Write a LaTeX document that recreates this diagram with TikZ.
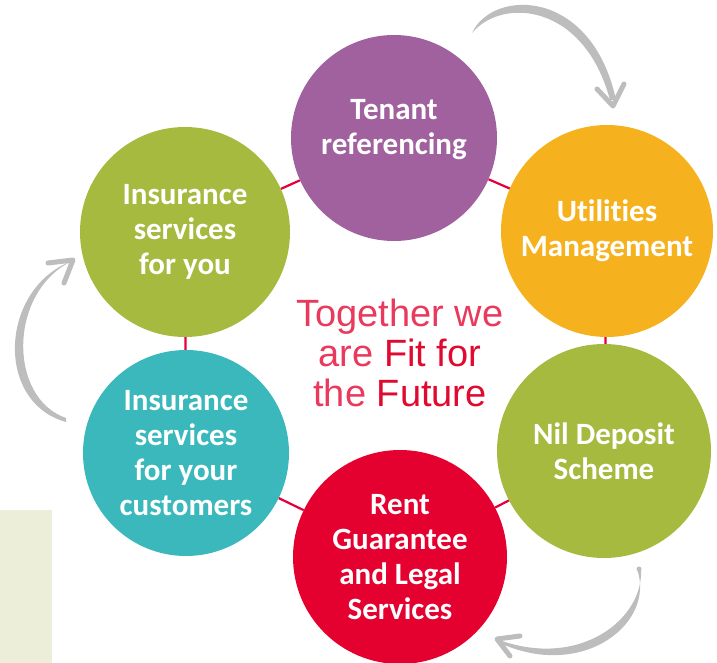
\documentclass[tikz,border=0pt]{standalone}
\usepackage{fontspec}
\setmainfont{Liberation Sans}
\newfontfamily\circfont[Ligatures=NoCommon]{Carlito}
\definecolor{cpurple}{HTML}{A0619E}
\definecolor{corange}{HTML}{F6B21E}
\definecolor{cgreen}{HTML}{A5BA3E}
\definecolor{cred}{HTML}{E4002F}
\definecolor{cteal}{HTML}{3BB8BB}
\definecolor{cline}{HTML}{E4003A}
\definecolor{cgray}{HTML}{BDBDBD}
\definecolor{cbeige}{HTML}{ECEEDA}
\definecolor{tlight}{HTML}{E93A5D}
\definecolor{tdark}{HTML}{E0092F}
\begin{document}
\begin{tikzpicture}[x=1pt,y=-1pt,
  bubbletext/.style={inner sep=0pt,text=white,align=center,
    font=\circfont\bfseries\fontsize{31}{35}\selectfont},
  bubble/.style={circle,bubbletext},
  ring/.style={draw=cline,line width=2.2pt},
  brush/.style={fill=cgray,draw=none},
  tipline/.style={draw=cgray,line width=5pt,line cap=round,line join=round}]
\useasboundingbox (0,0) rectangle (717,663);
\fill[cbeige] (0,510) rectangle (52,663);
% circles
\node[bubble,fill=cpurple,minimum size=206pt] (ten) at (394,138) {};
\node[bubbletext] (tentext) at ([yshift=8pt]ten.center) {Tenant\\referencing};
\node[bubble,fill=corange,minimum size=212pt] (uti) at (607,231) {Utilities\\Management};
\node[bubble,fill=cgreen,minimum size=214pt] (nil) at (604,451) {Nil Deposit\\Scheme};
\node[bubble,fill=cred,minimum size=214pt] (rent) at (400,557) {Rent\\Guarantee\\and Legal\\Services};
\node[bubble,fill=cteal,minimum size=206pt] (cust) at (186,453) {Insurance\\services\\for your\\customers};
\node[bubble,fill=cgreen,minimum size=210pt] (you) at (185,232) {Insurance\\services\\for you};
% ring connectors
\draw[ring] (ten) -- (uti);
\draw[ring] (uti) -- (nil);
\draw[ring] (nil) -- (rent);
\draw[ring] (rent) -- (cust);
\draw[ring] (cust) -- (you);
\draw[ring] (you) -- (ten);
% centre text
\node[align=center,font=\fontsize{38}{40}\selectfont,text=tlight] (mid) at (400,353)
  {Together we\\are \textcolor{tdark}{Fit for}\\the \textcolor{tdark}{Future}};
% top arrow
\fill[brush] (472,33) .. controls (493,-12) and (592,-12) .. (616,100)
  -- (610,100) .. controls (584,3) and (502,-3) .. (472,33) -- cycle;
\coordinate (t1) at (613,106);
\draw[tipline] (597,89) -- (t1) -- (624,84);
% bottom-right arrow
\fill[brush] (637,569) .. controls (656,622) and (585,680) .. (502,644)
  -- (502,641) .. controls (582,668) and (644,618) .. (641,569) -- cycle;
\fill[cgray] (639,569) circle (2.5pt);
\coordinate (t2) at (497,639);
\draw[tipline] (520,636) -- (t2) -- (510,656);
% left arrow
\fill[brush] (66,422) .. controls (-6,402) and (0,288) .. (72,261)
  -- (72,261) .. controls (8,292) and (8,398) .. (66,418) -- cycle;
\coordinate (t3) at (73,260);
\draw[tipline] (48,263) -- (t3) -- (64,283);
\end{tikzpicture}
\end{document}
